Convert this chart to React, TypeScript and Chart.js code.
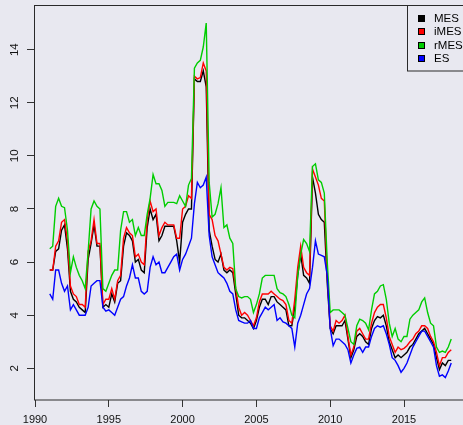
import React, { useEffect, useRef } from "react";
import { Chart, registerables } from "chart.js";
Chart.register(...registerables);

const dates = [
  1991.0, 1991.2, 1991.4, 1991.6, 1991.8, 1992.0, 1992.2, 1992.4, 1992.6, 1992.8,
  1993.0, 1993.2, 1993.4, 1993.6, 1993.8, 1994.0, 1994.2, 1994.4, 1994.6, 1994.8,
  1995.0, 1995.2, 1995.4, 1995.6, 1995.8, 1996.0, 1996.2, 1996.4, 1996.6, 1996.8,
  1997.0, 1997.2, 1997.4, 1997.6, 1997.8, 1998.0, 1998.2, 1998.4, 1998.6, 1998.8,
  1999.0, 1999.2, 1999.4, 1999.6, 1999.8, 2000.0, 2000.2, 2000.4, 2000.6, 2000.8,
  2001.0, 2001.2, 2001.4, 2001.6, 2001.8, 2002.0, 2002.2, 2002.4, 2002.6, 2002.8,
  2003.0, 2003.2, 2003.4, 2003.6, 2003.8, 2004.0, 2004.2, 2004.4, 2004.6, 2004.8,
  2005.0, 2005.2, 2005.4, 2005.6, 2005.8, 2006.0, 2006.2, 2006.4, 2006.6, 2006.8,
  2007.0, 2007.2, 2007.4, 2007.6, 2007.8, 2008.0, 2008.2, 2008.4, 2008.6, 2008.8,
  2009.0, 2009.2, 2009.4, 2009.6, 2009.8, 2010.0, 2010.2, 2010.4, 2010.6, 2010.8,
  2011.0, 2011.2, 2011.4, 2011.6, 2011.8, 2012.0, 2012.2, 2012.4, 2012.6, 2012.8,
  2013.0, 2013.2, 2013.4, 2013.6, 2013.8, 2014.0, 2014.2, 2014.4, 2014.6, 2014.8,
  2015.0, 2015.2, 2015.4, 2015.6, 2015.8, 2016.0, 2016.2, 2016.4, 2016.6, 2016.8,
  2017.0, 2017.2, 2017.4, 2017.6, 2017.8, 2018.0, 2018.2,
];

const MES = [
  5.7, 5.7, 6.4, 6.5, 7.2, 7.4, 6.5, 4.9, 4.6, 4.5,
  4.3, 4.2, 4.1, 6.1, 6.7, 7.4, 6.6, 6.6, 4.3, 4.4,
  4.3, 4.8, 4.5, 5.2, 5.3, 6.6, 7.1, 7.0, 6.8, 6.0,
  6.1, 5.7, 5.6, 7.3, 8.0, 7.6, 7.8, 6.8, 7.0, 7.35,
  7.35, 7.35, 7.35, 6.8, 6.0, 7.5, 7.8, 8.0, 8.0, 12.9,
  12.8, 12.8, 13.2, 12.6, 7.2, 6.6, 6.1, 6.0, 6.3, 5.7,
  5.6, 5.7, 5.6, 4.8, 4.0, 3.9, 3.9, 3.8, 3.7, 3.5,
  3.8, 4.3, 4.6, 4.6, 4.4, 4.7, 4.7, 4.5, 4.4, 4.3,
  4.2, 3.6, 3.6, 4.3, 5.5, 6.3, 5.5, 5.4, 5.2, 9.2,
  8.6, 7.8, 7.6, 7.5, 5.2, 3.5, 3.3, 3.6, 3.6, 3.6,
  3.8, 3.1, 2.4, 2.7, 3.2, 3.3, 3.2, 3.0, 2.9, 3.5,
  3.8, 3.95, 3.9, 4.0, 3.6, 3.0, 2.7, 2.4, 2.5, 2.4,
  2.5, 2.6, 2.8, 2.9, 3.1, 3.3, 3.4, 3.5, 3.3, 3.1,
  2.9, 2.4, 1.95, 2.2, 2.1, 2.3, 2.3,
];

const iMES = [
  5.7, 5.7, 6.6, 6.8, 7.5, 7.6, 6.8, 5.1, 4.8, 4.7,
  4.4, 4.4, 4.3, 6.4, 6.8, 7.6, 6.7, 6.7, 4.4, 4.6,
  4.6, 5.0, 4.6, 5.3, 5.5, 6.9, 7.3, 7.1, 7.0, 6.2,
  6.3, 6.0, 5.9, 7.6, 8.3, 7.9, 8.0, 7.0, 7.3, 7.5,
  7.4, 7.4, 7.4, 6.9, 6.9, 8.0, 8.1, 8.5, 8.4, 13.0,
  12.9, 12.95, 13.5, 13.2, 7.8, 7.6, 7.0, 6.8, 6.3, 5.8,
  5.7, 5.8, 5.75, 5.0, 4.3, 4.0, 4.1, 4.0, 3.8, 3.6,
  3.9, 4.5, 4.8, 4.8, 4.8, 4.9, 4.8, 4.7, 4.6, 4.55,
  4.4, 3.8, 3.7, 4.6, 5.8, 6.6, 5.8, 5.6, 5.5, 9.5,
  9.2, 8.9, 8.4, 8.3, 5.5, 3.6, 3.4, 3.8, 3.7, 3.8,
  4.0, 3.2, 2.5, 2.8, 3.4, 3.5, 3.3, 3.1, 3.1, 3.7,
  4.1, 4.3, 4.4, 4.4, 3.9, 3.2, 2.9, 2.6, 2.8, 2.7,
  2.75, 2.85, 3.0, 3.1, 3.3, 3.4, 3.6, 3.6, 3.5, 3.2,
  3.0, 2.6, 2.1, 2.4, 2.4, 2.6, 2.7,
];

const rMES = [
  6.5, 6.6, 8.1, 8.4, 8.1, 8.05, 7.2, 5.6, 6.2, 5.8,
  5.5, 5.3, 5.0, 6.4, 8.0, 8.3, 8.1, 8.0, 5.0, 4.9,
  5.2, 5.5, 5.7, 5.7, 7.2, 7.9, 7.9, 7.5, 7.6, 7.0,
  7.3, 7.0, 7.0, 7.8, 8.4, 9.3, 8.95, 8.95, 8.7, 8.1,
  8.25, 8.25, 8.25, 8.2, 8.5, 8.3, 8.1, 8.9, 9.15, 13.3,
  13.5, 13.6, 14.1, 15.0, 9.0, 7.7, 7.8, 8.2, 8.8, 7.3,
  7.4, 6.9, 6.7, 5.0, 4.7, 4.65, 4.7, 4.7, 4.6, 4.1,
  4.4, 4.8, 5.4, 5.5, 5.5, 5.5, 5.5, 5.0, 4.85, 4.8,
  4.7, 4.4, 4.0, 3.9, 5.5, 6.3, 6.85, 6.7, 6.4, 9.6,
  9.7, 9.1, 9.0, 8.6, 6.0, 4.1, 4.2, 4.2, 4.2, 4.1,
  4.0, 3.5, 3.0, 2.9, 3.6, 3.85, 3.8, 3.7, 3.45, 4.2,
  4.8, 4.9, 5.1, 5.15, 4.6, 3.7, 3.2, 3.5, 3.1, 3.0,
  3.2, 3.2, 3.85, 4.0, 4.1, 4.2, 4.5, 4.65, 4.1, 3.7,
  3.6, 2.8, 2.6, 2.65, 2.6, 2.8, 3.1,
];

const ES = [
  4.8, 4.6, 5.7, 5.7, 5.2, 4.9, 5.1, 4.2, 4.4, 4.2,
  4.0, 4.0, 4.0, 4.3, 5.1, 5.2, 5.3, 5.3, 4.3, 4.15,
  4.2, 4.1, 4.0, 4.3, 4.6, 4.7, 5.1, 5.4, 5.9, 5.4,
  5.4, 4.9, 4.8, 4.9, 5.8, 6.2, 5.9, 6.0, 5.6, 5.6,
  5.8, 6.0, 6.2, 6.3, 5.7, 6.1, 6.3, 6.6, 6.9, 8.2,
  9.0, 8.8, 8.9, 9.2, 7.0, 6.2, 5.9, 5.6, 5.5, 5.4,
  5.2, 4.9, 4.8, 4.2, 3.8, 3.75, 3.7, 3.7, 3.8, 3.5,
  3.5, 3.9, 4.1, 4.3, 4.2, 4.3, 4.4, 3.8, 3.9, 3.75,
  3.7, 3.6, 3.5, 2.8, 3.7, 4.0, 4.4, 4.8, 5.0, 5.8,
  6.8, 6.3, 6.25, 6.2, 5.5, 3.5, 2.85, 3.1, 3.1, 3.0,
  2.9, 2.7, 2.2, 2.5, 2.75, 2.8, 2.6, 2.8, 2.8, 3.2,
  3.5, 3.6, 3.55, 3.6, 3.3, 2.9, 2.4, 2.3, 2.1, 1.85,
  2.0, 2.2, 2.5, 2.8, 3.0, 3.2, 3.4, 3.4, 3.2, 3.0,
  2.8, 2.1, 1.7, 1.75, 1.65, 1.9, 2.2,
];

const seriesNames = ["MES", "iMES", "rMES", "ES"];
const seriesColors = ["#000000", "#FF0000", "#00CD00", "#0000FF"];
const xTicks = [1990, 1995, 2000, 2005, 2010, 2015];
const yTicks = [2, 4, 6, 8, 10, 12, 14];

const X_MIN = 1989.932;
const X_MAX = 2019.81;
const Y_MIN = 0.806;
const Y_MAX = 15.682;

const BG = "#E8E8F0";
const FONT = "'Liberation Sans', Arial, sans-serif";

export default function App() {
  const ref = useRef<HTMLCanvasElement | null>(null);

  useEffect(() => {
    if (!ref.current) return;
    const allSeries = [MES, iMES, rMES, ES];

    const bgPlugin = {
      id: "bgFill",
      beforeDraw(chart: any) {
        const ctx = chart.ctx;
        ctx.save();
        ctx.fillStyle = BG;
        ctx.fillRect(0, 0, chart.width, chart.height);
        ctx.restore();
      },
    };

    const boxPlugin = {
      id: "boxAndLegend",
      afterDraw(chart: any) {
        const ctx = chart.ctx;
        const { left, top, right, bottom } = chart.chartArea;
        ctx.save();
        ctx.strokeStyle = "#2a2a2a";
        ctx.lineWidth = 1;
        ctx.strokeRect(Math.round(left) + 0.5, Math.round(top) + 0.5, Math.round(right - left), Math.round(bottom - top) - 0.5);

        // legend
        const lx = 407.5;
        const ly = Math.round(top) + 0.5;
        ctx.strokeStyle = "#2a2a2a";
        ctx.strokeRect(lx, ly, 120, 65.5);
        ctx.font = `11.5px ${FONT}`;
        ctx.textBaseline = "middle";
        ctx.textAlign = "left";
        seriesNames.forEach((name, i) => {
          const cy = 18.3 + i * 13.35;
          ctx.fillStyle = seriesColors[i];
          ctx.fillRect(418, Math.round(cy - 3.5), 7, 7);
          ctx.strokeStyle = "#000";
          ctx.strokeRect(418.5, Math.round(cy - 3.5) + 0.5, 6, 6);
          ctx.fillStyle = "#000";
          ctx.fillText(name, 434, cy + 0.5);
        });
        ctx.restore();
      },
    };

    const orders = [4, 3, 2, 1];
    const chart = new Chart(ref.current, {
      type: "line",
      data: {
        datasets: allSeries.map((s, i) => ({
          label: seriesNames[i],
          data: dates.map((d, j) => ({ x: d, y: s[j] })),
          borderColor: seriesColors[i],
          backgroundColor: seriesColors[i],
          borderWidth: 1.4,
          pointRadius: 0,
          tension: 0,
          fill: false,
          order: orders[i],
        })),
      },
      options: {
        responsive: false,
        maintainAspectRatio: false,
        animation: false,
        layout: { padding: { top: 5, right: 15, left: 0, bottom: 0 } },
        plugins: { legend: { display: false }, tooltip: { enabled: false } },
        scales: {
          x: {
            type: "linear",
            min: X_MIN,
            max: X_MAX,
            afterFit(s: any) {
              s.height = 25;
              s.paddingLeft = 0;
              s.paddingRight = 0;
              s.paddingTop = 0;
              s.paddingBottom = 0;
            },
            afterBuildTicks(s: any) {
              s.ticks = xTicks.map((v) => ({ value: v }));
            },
            grid: {
              drawOnChartArea: false,
              drawTicks: true,
              tickLength: 7,
              color: "#333",
              tickColor: "#333",
            },
            border: { display: false },
            ticks: {
              font: { family: FONT, size: 11 },
              color: "#111",
              padding: 6,
              minRotation: 0,
              maxRotation: 0,
              autoSkip: false,
              callback: (v: any) => String(v),
            },
          },
          y: {
            type: "linear",
            min: Y_MIN,
            max: Y_MAX,
            afterFit(s: any) {
              s.width = 34;
              s.paddingLeft = 0;
              s.paddingRight = 0;
              s.paddingTop = 0;
              s.paddingBottom = 0;
            },
            afterBuildTicks(s: any) {
              s.ticks = yTicks.map((v) => ({ value: v }));
            },
            grid: {
              drawOnChartArea: false,
              drawTicks: true,
              tickLength: 7,
              color: "#333",
              tickColor: "#333",
            },
            border: { display: false },
            ticks: {
              font: { family: FONT, size: 11.5 },
              color: "#111",
              padding: 6,
              minRotation: 90,
              maxRotation: 90,
              crossAlign: "center",
              autoSkip: false,
              callback: (v: any) => String(v),
            },
          },
        },
      },
      plugins: [bgPlugin, boxPlugin],
    } as any);

    return () => chart.destroy();
  }, []);

  return (
    <div
      style={{
        position: "fixed",
        left: 0,
        top: 0,
        width: 463,
        height: 425,
        overflow: "hidden",
        background: BG,
      }}
    >
      <canvas ref={ref} width={490} height={425} style={{ display: "block" }} />
    </div>
  );
}
